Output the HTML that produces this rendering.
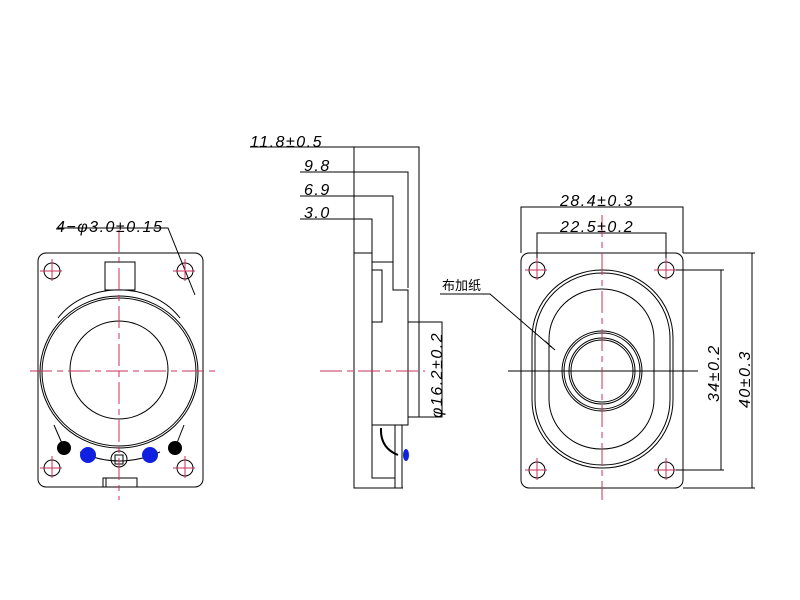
<!DOCTYPE html>
<html><head><meta charset="utf-8"><style>
html,body{margin:0;padding:0;background:#fff;width:800px;height:600px;overflow:hidden}
svg{display:block}
text{font-family:"Liberation Sans","Noto Sans CJK SC",sans-serif;font-style:italic;font-size:16px;letter-spacing:1.5px;fill:#000}
</style></head><body>
<svg width="800" height="600" viewBox="0 0 800 600" xmlns="http://www.w3.org/2000/svg">
<g fill="none" stroke="#000" stroke-width="1">
<!-- LEFT VIEW -->
<rect x="38" y="253" width="165" height="234" rx="8"/>
<circle cx="52" cy="271" r="8"/><circle cx="185" cy="271" r="8"/>
<circle cx="52" cy="468" r="8"/><circle cx="185" cy="468" r="8"/>
<path d="M58 318 A72 60 0 0 1 180 318"/>
<rect x="105" y="262" width="30" height="28"/>
<ellipse cx="119" cy="372" rx="79" ry="76"/>
<ellipse cx="119" cy="372" rx="77" ry="74"/>
<circle cx="119" cy="370" r="49"/>
<path d="M54 425 L64 448 M184 425 L175 448"/>
<path d="M80 452 Q119 470 160 452"/>
<circle cx="119" cy="459" r="8"/><rect x="115" y="455" width="8" height="9"/>
<path d="M103 487 L103 478 L137 478 L137 487 M106 478 L106 487"/>
<path d="M58 228 H168 L195 295"/>
<!-- SIDE VIEW -->
<path d="M250 147 H419 V323 M300 172 H408 V288 M300 196 H393 V290 M300 219 H372 V253"/>
<path d="M354 147 V488 H402 M354 253 H372 V262 H393 V290 H408 V425 H372 V262"/>
<rect x="372" y="270" width="10" height="52"/>
<path d="M408 322 H442 V417 H408 M419 322 V417"/>
<path d="M372 425 V478 H395 M395 425 V488 M402 425 V488 M395 488 H403"/>
<path d="M381 428 Q380 448 398 455" stroke-width="2"/>
<!-- RIGHT VIEW -->
<rect x="521" y="253" width="162" height="235" rx="8"/>
<circle cx="537" cy="270" r="8"/><circle cx="666" cy="270" r="8"/>
<circle cx="537" cy="470" r="8"/><circle cx="666" cy="470" r="8"/>
<rect x="532" y="270" width="141" height="198" rx="70" ry="68"/>
<rect x="535" y="273" width="135" height="192" rx="67" ry="65"/>
<rect x="549" y="289" width="105" height="160" rx="52" ry="50"/>
<circle cx="602" cy="371" r="40"/><circle cx="602" cy="371" r="38"/>
<circle cx="602" cy="371" r="33"/><circle cx="602" cy="371" r="31"/>
<path d="M508 371 H698"/>
<path d="M521 253 V207 H683 V253 M537 262 V233 H666 V262"/>
<path d="M683 253 H755 M683 488 H755 M752 253 V488 M674 270 H724 M674 470 H724 M721 270 V470"/>
<path d="M440 294 H490 L555 350"/>
</g>
<g fill="#000">
<circle cx="64" cy="448" r="7"/><circle cx="175" cy="448" r="7"/>
<polygon points="555,350 545,340 549,346"/>
</g>
<g fill="#1020e0"><circle cx="88" cy="455" r="8"/><circle cx="150" cy="455" r="8"/><ellipse cx="406" cy="455" rx="3" ry="6"/></g>
<g stroke="#c8305a" stroke-width="1" fill="none" stroke-dasharray="22,5,6,5">
<path d="M119 230 V500"/><path d="M30 371 H215"/>
<path d="M320 371 H425"/><path d="M602 215 V500"/>
<path d="M40 271 H64 M52 259 V283 M173 271 H197 M185 259 V283 M40 468 H64 M52 456 V480 M173 468 H197 M185 456 V480"/>
<path d="M525 270 H549 M537 258 V282 M654 270 H678 M666 258 V282 M525 470 H549 M537 458 V482 M654 470 H678 M666 458 V482"/>
</g>
<text x="56" y="232">4−φ3.0±0.15</text>
<text x="250" y="147">11.8±0.5</text>
<text x="304" y="171">9.8</text>
<text x="304" y="195">6.9</text>
<text x="304" y="218">3.0</text>
<text transform="translate(442,418) rotate(-90)">φ16.2±0.2</text>
<text x="560" y="206">28.4±0.3</text>
<text x="560" y="232">22.5±0.2</text>
<text transform="translate(719,402) rotate(-90)">34±0.2</text>
<text transform="translate(750,408) rotate(-90)">40±0.3</text>
<text x="442" y="290" style="font-style:normal;font-size:13px;letter-spacing:0">布加纸</text>
</svg>
</body></html>
